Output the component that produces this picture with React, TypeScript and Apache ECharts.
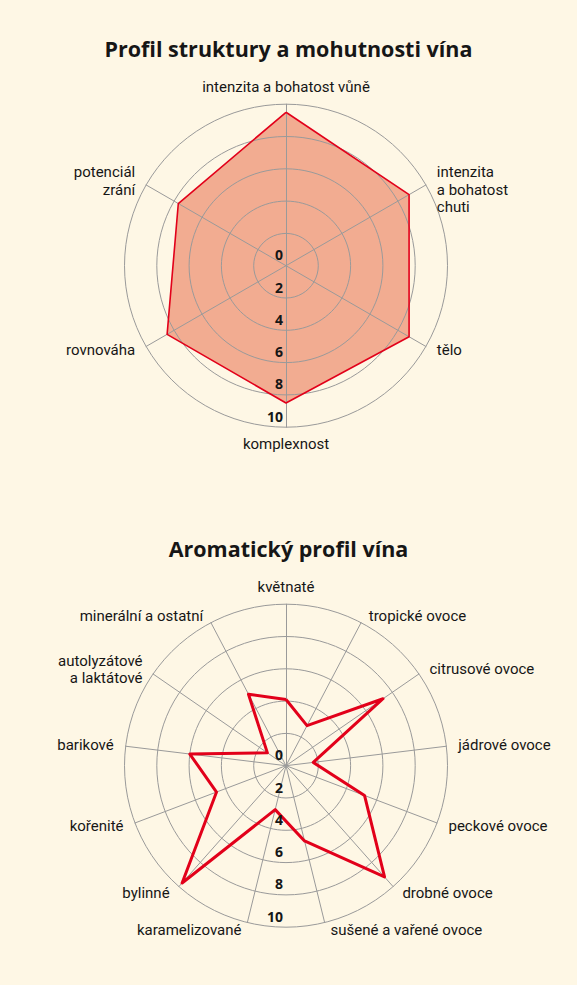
import * as echarts from "echarts"
import { useEffect, useRef } from "react"

// Profil struktury a mohutnosti vína, clockwise from the top
const structureAxes = [
  "intenzita a bohatost vůně",
  "intenzita\na bohatost\nchuti",
  "tělo",
  "komplexnost",
  "rovnováha",
  "potenciál\nzrání",
]
const structureValues = [9.5, 8.8, 8.8, 8.5, 8.5, 7.7]

// Aromatický profil vína, clockwise from the top
const aromaAxes = [
  "květnaté",
  "tropické ovoce",
  "citrusové ovoce",
  "jádrové ovoce",
  "peckové ovoce",
  "drobné ovoce",
  "sušené a vařené ovoce",
  "karamelizované",
  "bylinné",
  "kořenité",
  "barikové",
  "autolyzátové\na laktátové",
  "minerální a ostatní",
]
const aromaValues = [4.1, 2.8, 7.3, 1.7, 5.2, 9.2, 4.8, 2.8, 9.7, 4.6, 6.0, 1.4, 5.0]

const titles = ["Profil struktury a mohutnosti vína", "Aromatický profil vína"]
const scaleMin = 0
const scaleMax = 10
const scaleSteps = 5

const BG = "#FEF7E5"
const FONT = "'Open Sans', 'Noto Sans', sans-serif"
const NAME_FONT = "Roboto, 'Open Sans', sans-serif"
const INK = "#161616"
const GRID = "#9a9a9a"
const RED = "#E2001A"

const CX = 286
const CY = [265.7, 765.7]
const R = 161.5

// echarts radar runs counter-clockwise, the arrays above are clockwise
function ccw<T>(arr: T[]): T[] {
  return [arr[0], ...arr.slice(1).reverse()]
}

function gridRadar(cy: number, names: string[]) {
  const line = { lineStyle: { color: GRID, width: 1 } }
  return {
    center: [CX, cy],
    radius: R,
    startAngle: 90,
    shape: "circle",
    splitNumber: scaleSteps,
    indicator: ccw(names).map((name) => ({ name, min: scaleMin, max: scaleMax })),
    nameGap: 8,
    axisName: {
      color: INK,
      fontSize: 15,
      fontFamily: NAME_FONT,
      lineHeight: 17.6,
      padding: [0, 4, 0, 4],
      // three-line names hang a bit lower than echarts centres them
      formatter: (name: string) => (name.split("\n").length > 2 ? "\n" + name : name),
    },
    axisLine: line,
    splitLine: line,
    splitArea: { show: false },
    axisTick: { show: false },
    axisLabel: { show: false },
    z: 2,
  }
}

// invisible one-axis radar pointing down, only carries the 0..10 labels
function tickRadar(cy: number) {
  return {
    center: [CX, cy],
    radius: R,
    startAngle: 270,
    shape: "circle",
    splitNumber: scaleSteps,
    indicator: [{ name: "", min: scaleMin, max: scaleMax }],
    axisName: { show: false },
    axisLine: { show: false },
    splitLine: { show: false },
    splitArea: { show: false },
    axisTick: { show: false },
    axisLabel: {
      show: true,
      margin: -3,
      align: "right",
      verticalAlign: "bottom",
      padding: [0, 0, 4, 0],
      fontSize: 14,
      fontWeight: "bold",
      fontFamily: FONT,
      color: INK,
    },
    z: 4,
  }
}

export default function App(): React.ReactElement {
  const ref = useRef<HTMLDivElement>(null)

  useEffect(() => {
    document.body.style.margin = "0"
    const node = ref.current
    if (!node) return
    const chart = echarts.init(node, undefined, { renderer: "svg" })

    chart.setOption({
      backgroundColor: BG,
      animation: false,
      title: titles.map((text, i) => ({
        text,
        left: "center",
        top: CY[i] - 228,
        padding: 0,
        textStyle: { fontFamily: FONT, fontSize: 21.5, fontWeight: 700, color: INK },
      })),
      radar: [
        gridRadar(CY[0], structureAxes),
        gridRadar(CY[1], aromaAxes),
        tickRadar(CY[0]),
        tickRadar(CY[1]),
      ],
      series: [
        {
          type: "radar",
          radarIndex: 0,
          z: 1,
          silent: true,
          symbol: "none",
          data: [
            {
              value: ccw(structureValues),
              lineStyle: { opacity: 0 },
              areaStyle: { color: "#F2AC91", opacity: 1 },
            },
          ],
        },
        {
          type: "radar",
          radarIndex: 0,
          z: 3,
          symbol: "none",
          data: [{ value: ccw(structureValues), lineStyle: { color: RED, width: 1.6 } }],
        },
        {
          type: "radar",
          radarIndex: 1,
          z: 3,
          symbol: "none",
          data: [{ value: ccw(aromaValues), lineStyle: { color: RED, width: 3 } }],
        },
      ],
    })

    return () => chart.dispose()
  }, [])

  return <div ref={ref} style={{ width: 577, height: 985, background: BG }} />
}
